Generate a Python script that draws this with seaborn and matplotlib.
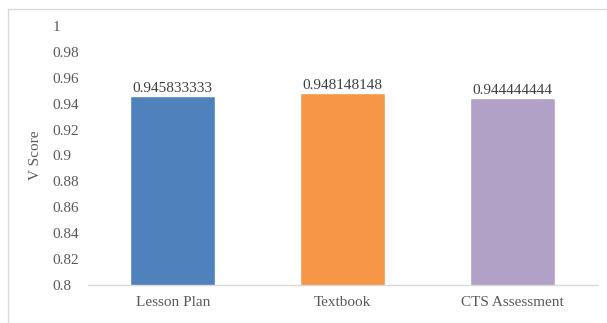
import matplotlib
matplotlib.use("Agg")
import matplotlib.pyplot as plt
import seaborn as sns
import pandas as pd
from matplotlib.lines import Line2D

categories = ["Lesson Plan", "Textbook", "CTS Assessment"]
values = [0.945833333, 0.948148148, 0.944444444]
value_labels = ["0.945833333", "0.948148148", "0.944444444"]
colors = ["#4f81bd", "#f79646", "#b2a1c7"]
yticks = [0.8, 0.82, 0.84, 0.86, 0.88, 0.9, 0.92, 0.94, 0.96, 0.98, 1.0]
ytick_labels = ["0.8", "0.82", "0.84", "0.86", "0.88", "0.9", "0.92", "0.94", "0.96", "0.98", "1"]

sns.set_theme(style="white")
plt.rcParams['font.family'] = ['Liberation Serif', 'DejaVu Serif']

W, H = 607, 323
fig = plt.figure(figsize=(W / 100, H / 100), dpi=100)
ax = fig.add_axes([88 / W, 1 - 285 / H, (597 - 88) / W, (285 - 26) / H])

df = pd.DataFrame({"cat": categories, "val": values})
sns.barplot(data=df, x="cat", y="val", hue="cat", palette=colors, width=0.5,
            legend=False, ax=ax, saturation=1)

ax.set_ylim(0.8, 1.0)
ax.set_xlim(-0.5, 2.5)
ax.set_yticks(yticks)
ax.set_yticklabels(ytick_labels)
ax.tick_params(axis="both", length=0, labelsize=11, colors="#595959")
ax.tick_params(axis="y", pad=25.5)
ax.tick_params(axis="x", pad=8)
for lab in ax.get_yticklabels():
    lab.set_horizontalalignment("left")
ax.set_xlabel("")
ax.set_ylabel("V Score", fontsize=11, color="#595959")
ax.yaxis.set_label_coords(-46 / (597 - 88), 0.5)

for s in ["top", "right", "left"]:
    ax.spines[s].set_visible(False)
ax.spines["bottom"].set_color("#d9d9d9")
ax.spines["bottom"].set_linewidth(1)

for i, (v, t) in enumerate(zip(values, value_labels)):
    ax.text(i, v + 0.0006, t, ha="center", va="bottom", fontsize=11, color="#404040")

# outer frame (top and left edges visible)
fig.add_artist(Line2D([8 / W, 1.0], [1 - 9 / H, 1 - 9 / H], transform=fig.transFigure,
                      color="#d9d9d9", lw=1))
fig.add_artist(Line2D([8 / W, 8 / W], [0, 1 - 9 / H], transform=fig.transFigure,
                      color="#d9d9d9", lw=1))

fig.savefig("out.png", dpi=100)
